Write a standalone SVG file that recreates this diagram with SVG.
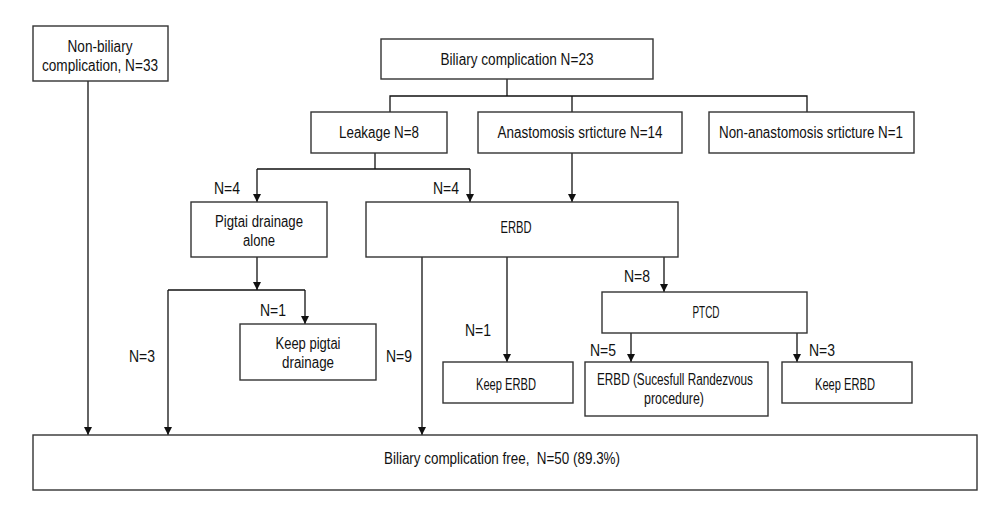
<svg xmlns="http://www.w3.org/2000/svg" width="1000" height="517" viewBox="0 0 1000 517">
<style>
.box{fill:#fff;stroke:#333;stroke-width:1.4}
.ln{fill:none;stroke:#111;stroke-width:1.3}
text{font-family:"Liberation Sans",Arial,sans-serif;font-size:16px;fill:#111;text-anchor:middle}
</style>
<defs>
<marker id="ah" viewBox="0 0 10 10" refX="10" refY="5" markerWidth="9" markerHeight="8" markerUnits="userSpaceOnUse" orient="auto">
<path d="M0,0 L10,5 L0,10 z" fill="#111"/>
</marker>
</defs>
<rect width="1000" height="517" fill="#fff"/>
<g id="connectors">
<path class="ln" d="M88,81 V435" marker-end="url(#ah)"/>
<path class="ln" d="M507,79 V96 M390,112 V96 H807 V112 M572,96 V112"/>
<path class="ln" d="M375,153 V169 M257,169 H470"/>
<path class="ln" d="M257,169 V202" marker-end="url(#ah)"/>
<path class="ln" d="M470,169 V202" marker-end="url(#ah)"/>
<path class="ln" d="M572,153 V202" marker-end="url(#ah)"/>
<path class="ln" d="M257,257 V290" marker-end="url(#ah)"/>
<path class="ln" d="M168,290 H305"/>
<path class="ln" d="M305,290 V324" marker-end="url(#ah)"/>
<path class="ln" d="M168,290 V435" marker-end="url(#ah)"/>
<path class="ln" d="M422,257 V435" marker-end="url(#ah)"/>
<path class="ln" d="M507,257 V362" marker-end="url(#ah)"/>
<path class="ln" d="M664,257 V292" marker-end="url(#ah)"/>
<path class="ln" d="M631,333 V362" marker-end="url(#ah)"/>
<path class="ln" d="M797,333 V362" marker-end="url(#ah)"/>
<text x="227" y="194" textLength="26" lengthAdjust="spacingAndGlyphs">N=4</text>
<text x="446" y="194" textLength="26" lengthAdjust="spacingAndGlyphs">N=4</text>
<text x="273" y="316" textLength="26" lengthAdjust="spacingAndGlyphs">N=1</text>
<text x="142" y="362" textLength="26" lengthAdjust="spacingAndGlyphs">N=3</text>
<text x="399" y="362" textLength="26" lengthAdjust="spacingAndGlyphs">N=9</text>
<text x="478" y="336" textLength="26" lengthAdjust="spacingAndGlyphs">N=1</text>
<text x="637" y="282" textLength="26" lengthAdjust="spacingAndGlyphs">N=8</text>
<text x="603" y="356" textLength="26" lengthAdjust="spacingAndGlyphs">N=5</text>
<text x="822" y="356" textLength="26" lengthAdjust="spacingAndGlyphs">N=3</text>
</g>
<g id="nonbiliary">
<rect class="box" x="33" y="26" width="135" height="55"/>
<text x="100" y="52" textLength="65" lengthAdjust="spacingAndGlyphs">Non-biliary</text>
<text x="100" y="71" textLength="116" lengthAdjust="spacingAndGlyphs">complication, N=33</text>
</g>
<g id="biliary">
<rect class="box" x="381" y="39" width="272" height="40"/>
<text x="517" y="65" textLength="153" lengthAdjust="spacingAndGlyphs">Biliary complication N=23</text>
</g>
<g id="leakage">
<rect class="box" x="311" y="112" width="136" height="41"/>
<text x="379" y="138" textLength="80" lengthAdjust="spacingAndGlyphs">Leakage N=8</text>
</g>
<g id="anastomosis">
<rect class="box" x="478" y="112" width="204" height="41"/>
<text x="580" y="138" textLength="165" lengthAdjust="spacingAndGlyphs">Anastomosis srticture N=14</text>
</g>
<g id="nonanastomosis">
<rect class="box" x="709" y="112" width="205" height="41"/>
<text x="811" y="138" textLength="184" lengthAdjust="spacingAndGlyphs">Non-anastomosis srticture N=1</text>
</g>
<g id="pigtai">
<rect class="box" x="191" y="202" width="136" height="55"/>
<text x="259" y="227" textLength="88" lengthAdjust="spacingAndGlyphs">Pigtai drainage</text>
<text x="259" y="246" textLength="32" lengthAdjust="spacingAndGlyphs">alone</text>
</g>
<g id="erbd">
<rect class="box" x="366" y="202" width="312" height="55"/>
<text x="516" y="233" textLength="31" lengthAdjust="spacingAndGlyphs">ERBD</text>
</g>
<g id="keeppigtai">
<rect class="box" x="240" y="324" width="136" height="56"/>
<text x="308" y="349" textLength="65" lengthAdjust="spacingAndGlyphs">Keep pigtai</text>
<text x="308" y="368" textLength="52" lengthAdjust="spacingAndGlyphs">drainage</text>
</g>
<g id="keeperbd1">
<rect class="box" x="443" y="362" width="130" height="41"/>
<text x="506" y="390" textLength="60" lengthAdjust="spacingAndGlyphs">Keep ERBD</text>
</g>
<g id="ptcd">
<rect class="box" x="602" y="292" width="205" height="41"/>
<text x="706" y="318" textLength="27" lengthAdjust="spacingAndGlyphs">PTCD</text>
</g>
<g id="erbdrv">
<rect class="box" x="585" y="362" width="183" height="54"/>
<text x="675" y="385" textLength="156" lengthAdjust="spacingAndGlyphs">ERBD (Sucesfull Randezvous</text>
<text x="674" y="404" textLength="60" lengthAdjust="spacingAndGlyphs">procedure)</text>
</g>
<g id="keeperbd2">
<rect class="box" x="782" y="362" width="130" height="41"/>
<text x="845" y="390" textLength="60" lengthAdjust="spacingAndGlyphs">Keep ERBD</text>
</g>
<g id="free">
<rect class="box" x="33" y="435" width="944" height="55"/>
<text x="502" y="464" textLength="236" lengthAdjust="spacingAndGlyphs" xml:space="preserve">Biliary complication free,  N=50 (89.3%)</text>
</g>
</svg>
